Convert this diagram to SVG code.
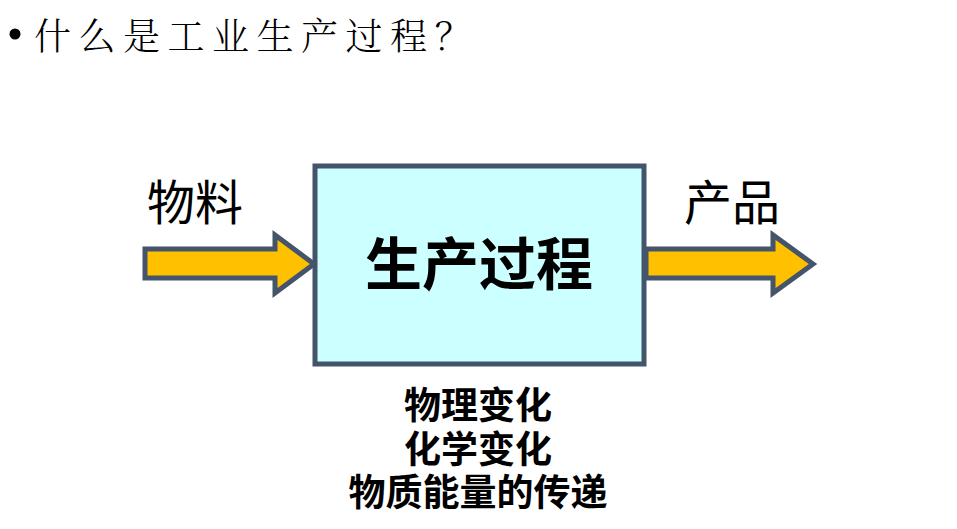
<svg xmlns="http://www.w3.org/2000/svg" width="957" height="529" viewBox="0 0 957 529">
<style>
.cjk{font-family:"Noto Sans CJK SC","Noto Sans CJK JP",sans-serif;}
.serif{font-family:"Noto Serif CJK SC","Noto Sans CJK SC",serif;font-weight:300;}
.arrow{fill:#FFC000;stroke:#44546A;stroke-width:5;stroke-linejoin:miter;}
.b{font-weight:bold;fill:#000;}
</style>
<rect width="957" height="529" fill="#fff"/>
<g id="title">
<circle cx="15" cy="34" r="5.5" fill="#000"/>
<text x="34" y="50" class="serif" font-size="37" letter-spacing="7.5">什么是工业生产过程？</text>
</g>
<g id="connectors">
<polygon class="arrow" points="145,249 275,249 275,235 314,264 275,293 275,278 145,278"/>
<polygon class="arrow" points="646,249 773,249 773,235 813,264 773,293 773,278 646,278"/>
</g>
<g id="process">
<rect x="315" y="166" width="329" height="198" fill="#CCFFFF" stroke="#44546A" stroke-width="5"/>
<text x="479" y="285" class="cjk b" font-size="57" text-anchor="middle">生产过程</text>
</g>
<g id="input"><text x="147" y="220" class="cjk" font-size="48">物料</text></g>
<g id="output"><text x="684" y="220" class="cjk" font-size="48">产品</text></g>
<g id="notes" class="cjk b" font-size="37" text-anchor="middle">
<text x="478" y="419">物理变化</text>
<text x="478" y="463">化学变化</text>
<text x="478" y="506">物质能量的传递</text>
</g>
</svg>
